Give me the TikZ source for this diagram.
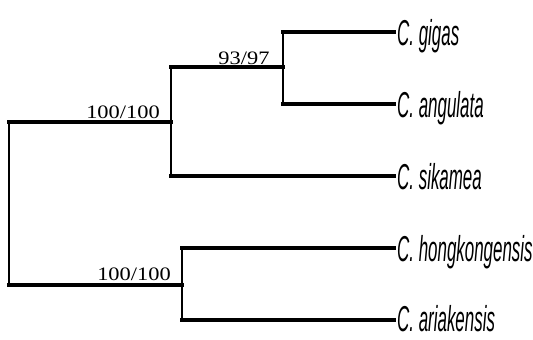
\documentclass[tikz,border=0pt]{standalone}
\usepackage{fontspec}
\newfontfamily\tipfont{Liberation Sans}[FakeStretch=0.47]
\newfontfamily\supfont{Liberation Serif}[FakeStretch=1.18]
\begin{document}
\begin{tikzpicture}[x=1bp,y=-1bp,
  hline/.style={line width=3.2bp,line cap=rect},
  vline/.style={line width=2.2bp},
  tip/.style={anchor=base west,inner sep=0pt,text depth=0pt,font=\tipfont\itshape\fontsize{36bp}{38bp}\selectfont},
  supp/.style={anchor=base,inner sep=0pt,font=\supfont\fontsize{19bp}{21bp}\selectfont}]
\useasboundingbox (0,0) rectangle (533,339);
% internal nodes
\coordinate (rT) at (9,122);
\coordinate (rB) at (9,285);
\coordinate (a) at (171,122);
\coordinate (aT) at (171,67);
\coordinate (aB) at (171,176);
\coordinate (b) at (283,67);
\coordinate (bT) at (283,32);
\coordinate (bB) at (283,104);
\coordinate (c) at (182,285);
\coordinate (cT) at (182,248);
\coordinate (cB) at (182,320);
% tip ends
\coordinate (eG) at (394,32);
\coordinate (eA) at (394,104);
\coordinate (eS) at (394,176);
\coordinate (eH) at (394,248);
\coordinate (eR) at (394,320);
% tip labels
\node[tip] (gigas) at (397,45) {C. gigas};
\node[tip] (angulata) at (397,117) {C. angulata};
\node[tip] (sikamea) at (397,189) {C. sikamea};
\node[tip] (hong) at (397,261) {C. hongkongensis};
\node[tip] (aria) at (397,331.5) {C. ariakensis};
% support values
\node[supp] (s1) at (123,118) {100/100};
\node[supp] (s2) at (244,64) {93/97};
\node[supp] (s3) at (134,280) {100/100};
% branches
\draw[vline] (rT) -- (rB);
\draw[hline] (rT) -- (a);
\draw[hline] (rB) -- (c);
\draw[vline] (aT) -- (aB);
\draw[hline] (aT) -- (b);
\draw[hline] (aB) -- (eS);
\draw[vline] (bT) -- (bB);
\draw[hline] (bT) -- (eG);
\draw[hline] (bB) -- (eA);
\draw[vline] (cT) -- (cB);
\draw[hline] (cT) -- (eH);
\draw[hline] (cB) -- (eR);
\end{tikzpicture}
\end{document}
